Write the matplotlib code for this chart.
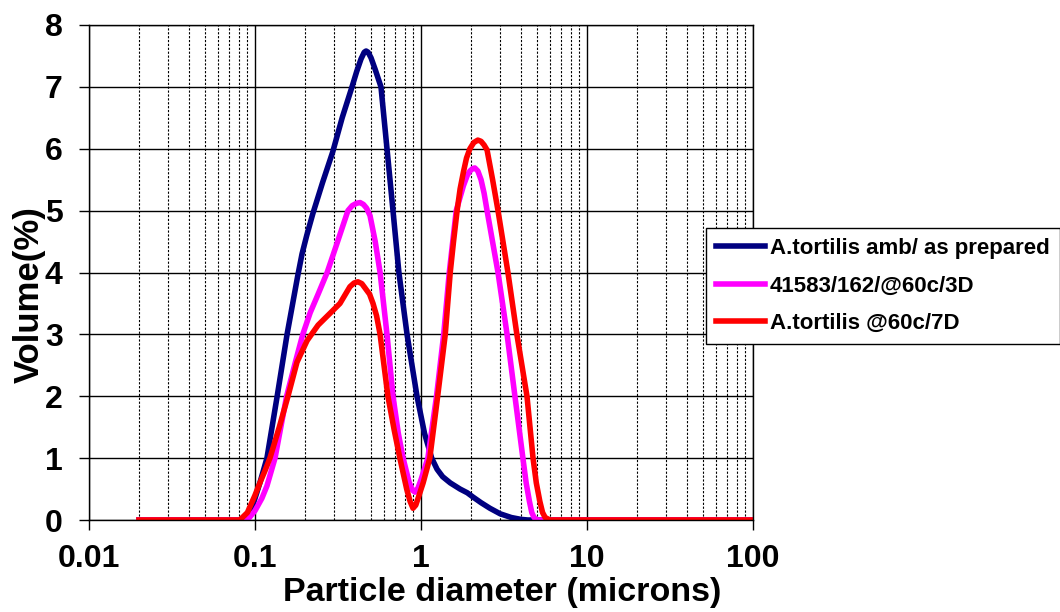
import matplotlib
matplotlib.use("Agg")
import matplotlib.pyplot as plt
from matplotlib.ticker import LogLocator, NullFormatter, FixedLocator
import numpy as np

plt.rcParams['font.family'] = ['Liberation Sans', 'DejaVu Sans']
plt.rcParams['font.weight'] = 'bold'

# values (x in microns, y in volume %)
amb_x = [0.02, 0.05, 0.085, 0.09, 0.095, 0.1, 0.107, 0.118, 0.136, 0.156, 0.181, 0.192, 0.205,
         0.223, 0.255, 0.294, 0.335, 0.384, 0.41, 0.435, 0.455, 0.467, 0.48, 0.50, 0.53,
         0.574, 0.624, 0.678, 0.736, 0.824, 0.946, 1.05, 1.16, 1.25, 1.35, 1.5, 1.72, 1.9,
         2.06, 2.3, 2.6, 3.0, 3.5, 4.0, 4.4, 10, 100]
amb_y = [0, 0, 0, 0.06, 0.18, 0.35, 0.6, 1.0, 2.0, 3.0, 3.95, 4.3, 4.6,
         4.95, 5.45, 5.95, 6.5, 7.0, 7.25, 7.45, 7.56, 7.58, 7.56, 7.47, 7.28,
         7.0, 6.0, 5.0, 4.0, 3.0, 2.0, 1.4, 1.0, 0.82, 0.7, 0.6, 0.5, 0.44,
         0.37, 0.28, 0.19, 0.1, 0.04, 0.01, 0, 0, 0]

d3_x = [0.02, 0.05, 0.09, 0.1, 0.11, 0.118, 0.132, 0.155, 0.175, 0.194, 0.215, 0.24, 0.272,
        0.31, 0.363, 0.385, 0.41, 0.43, 0.45, 0.47, 0.493, 0.53, 0.567, 0.624, 0.678, 0.73,
        0.78, 0.85, 0.89, 0.92, 0.96, 1.0, 1.1, 1.24, 1.37, 1.48, 1.63, 1.8, 1.9, 1.97, 2.05,
        2.11, 2.2, 2.3, 2.4, 2.5, 2.91, 3.3, 3.68, 4.11, 4.3, 4.5, 4.65, 4.8, 5.0, 10, 100]
d3_y = [0, 0, 0, 0.15, 0.35, 0.55, 1.0, 2.0, 2.55, 3.0, 3.35, 3.65, 4.0,
        4.45, 5.0, 5.08, 5.12, 5.13, 5.1, 5.04, 4.92, 4.5, 4.0, 3.0, 2.0, 1.4,
        1.0, 0.6, 0.48, 0.45, 0.52, 0.65, 1.0, 2.0, 3.0, 4.0, 5.0, 5.4, 5.57, 5.64, 5.68,
        5.69, 5.64, 5.5, 5.28, 5.0, 4.0, 3.0, 2.0, 1.0, 0.6, 0.3, 0.12, 0.04, 0, 0, 0]

d7_x = [0.02, 0.05, 0.081, 0.09, 0.1, 0.107, 0.115, 0.123, 0.14, 0.158, 0.179, 0.206, 0.24,
        0.283, 0.325, 0.373, 0.395, 0.417, 0.44, 0.46, 0.49, 0.514, 0.54, 0.567, 0.632, 0.69,
        0.746, 0.82, 0.86, 0.895, 0.93, 0.96, 1.03, 1.13, 1.26, 1.40, 1.5, 1.57, 1.65, 1.72,
        1.8, 1.88, 1.97, 2.08, 2.2, 2.3, 2.4, 2.5, 2.7, 2.91, 3.34, 3.78, 4.35, 4.73, 4.95,
        5.2, 5.4, 5.6, 5.98, 10, 100]
d7_y = [0, 0, 0, 0.12, 0.4, 0.6, 0.8, 1.0, 1.5, 2.0, 2.55, 2.9, 3.15,
        3.34, 3.5, 3.77, 3.83, 3.85, 3.82, 3.75, 3.65, 3.5, 3.3, 3.0, 2.0, 1.45,
        1.0, 0.5, 0.3, 0.19, 0.24, 0.35, 0.6, 1.0, 2.0, 3.0, 4.0, 4.5, 5.0, 5.35,
        5.62, 5.85, 6.0, 6.1, 6.14, 6.12, 6.06, 5.98, 5.5, 5.0, 4.0, 3.0, 2.0, 1.0, 0.6,
        0.3, 0.12, 0.04, 0, 0, 0]

labels = ['A.tortilis amb/ as prepared', '41583/162/@60c/3D', 'A.tortilis @60c/7D']
colors = ['#000080', '#FF00FF', '#FF0000']

fig = plt.figure(figsize=(10.6, 6.12), dpi=100)
ax = fig.add_axes([89/1060, 92/612, 664/1060, 495/612])

for xs, ys, lab, c in zip([amb_x, d3_x, d7_x], [amb_y, d3_y, d7_y], labels, colors):
    ax.plot(xs, ys, color=c, lw=4, label=lab, solid_joinstyle='round')

ax.set_xscale('log')
ax.set_xlim(0.01, 100)
ax.set_ylim(0, 8)
ax.yaxis.set_major_locator(FixedLocator(range(0, 9)))
ax.xaxis.set_major_locator(FixedLocator([0.01, 0.1, 1, 10, 100]))
ax.set_xticklabels(['0.01', '0.1', '1', '10', '100'])
ax.xaxis.set_minor_locator(LogLocator(base=10, subs=np.arange(2, 10)))
ax.xaxis.set_minor_formatter(NullFormatter())

ax.grid(which='major', color='black', lw=1.0)
ax.grid(which='minor', axis='x', color='black', lw=0.8, linestyle=(0, (2, 1.5)))
ax.set_axisbelow(True)
ax.tick_params(which='major', length=7, width=1, direction='out', labelsize=23)
ax.tick_params(axis='x', pad=10)
ax.tick_params(axis='y', pad=12)
ax.tick_params(which='minor', length=0)
for s in ax.spines.values():
    s.set_color('black')
    s.set_linewidth(1)

ax.set_xlabel('Particle diameter (microns)', fontsize=24.5, fontweight='bold')
ax.xaxis.set_label_coords(0.623, -0.115)
ax.set_ylabel('Volume(%)', fontsize=25, fontweight='bold')
ax.yaxis.set_label_coords(-0.065, 0.455)

leg = fig.legend(loc='upper left', bbox_to_anchor=(706/1060, 1 - 228/612), fontsize=16,
                 frameon=True, fancybox=False, edgecolor='black', framealpha=1,
                 borderaxespad=0, handlelength=2.2, handletextpad=0.23, labelspacing=0.74,
                 borderpad=0.45)
leg.get_frame().set_linewidth(1)

fig.savefig('out.png', dpi=100)
